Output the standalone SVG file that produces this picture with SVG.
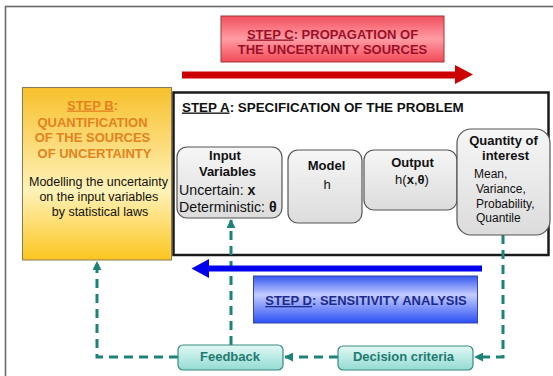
<svg xmlns="http://www.w3.org/2000/svg" width="553" height="376" viewBox="0 0 553 376">
<defs>
<linearGradient id="gC" x1="0" y1="0" x2="0" y2="1">
<stop offset="0" stop-color="#f2505e"/><stop offset="0.5" stop-color="#ff9ca4"/><stop offset="1" stop-color="#f24a58"/>
</linearGradient>
<linearGradient id="gB" x1="0" y1="0" x2="0" y2="1">
<stop offset="0" stop-color="#f7c02c"/><stop offset="0.6" stop-color="#fff2b8"/><stop offset="1" stop-color="#fbc620"/>
</linearGradient>
<linearGradient id="gD" x1="0" y1="0" x2="0" y2="1">
<stop offset="0" stop-color="#3458f0"/><stop offset="0.4" stop-color="#c4ccff"/><stop offset="1" stop-color="#2a50f4"/>
</linearGradient>
<linearGradient id="gN" x1="0" y1="0" x2="0" y2="1">
<stop offset="0" stop-color="#f6f6f6"/><stop offset="1" stop-color="#dcdcdc"/>
</linearGradient>
<linearGradient id="gT" x1="0" y1="0" x2="0" y2="1">
<stop offset="0" stop-color="#e2f8f5"/><stop offset="1" stop-color="#92dbd3"/>
</linearGradient>
<marker id="ah" viewBox="0 0 10 10" refX="9" refY="5" markerWidth="3" markerHeight="3" orient="auto" markerUnits="strokeWidth">
<path d="M0,0 L10,5 L0,10 z" fill="#1e8278"/>
</marker>
</defs>
<style>
text{font-family:"Liberation Sans",Arial,sans-serif}
.b{font-weight:bold}
.u{text-decoration:underline}
.node{fill:url(#gN);stroke:#555;stroke-width:1.2}
.fb{fill:url(#gT);stroke:#3a8a80;stroke-width:1.2}
.tl{fill:#1f7a70;font-size:13px;font-weight:bold;text-anchor:middle}
.con{fill:none;stroke:#1e8278;stroke-width:3;stroke-dasharray:9 6}
.cap{font-size:13px;font-weight:bold;text-anchor:middle;fill:#111}
.txt{font-size:14.2px;fill:#111}
.q{font-size:12px;fill:#111}
</style>
<rect x="5.5" y="6.5" width="620" height="420" fill="#fff" stroke="#6a6a6a" stroke-width="1.6"/>

<g id="stepC">
<rect x="221" y="16" width="223" height="46" fill="url(#gC)" stroke="#a03838" stroke-width="1"/>
<text x="332.5" y="38.5" font-size="13" font-weight="bold" fill="#9a1028" text-anchor="middle"><tspan class="u">STEP C</tspan>: PROPAGATION OF</text>
<text x="332.5" y="53.5" font-size="13" font-weight="bold" fill="#9a1028" text-anchor="middle">THE UNCERTAINTY SOURCES</text>
</g>
<polygon id="arrowC" points="182,71.5 455,71.5 455,65 473,74.5 455,84 455,78.5 182,78.5" fill="#cc0000"/>

<g id="stepB">
<rect x="22.5" y="87.5" width="149" height="172.5" fill="url(#gB)" stroke="#8a7a58" stroke-width="1"/>
<g font-size="13" font-weight="bold" fill="#e4821e" text-anchor="middle">
<text x="92.5" y="109.5"><tspan class="u">STEP B</tspan>:</text>
<text x="92.5" y="126.5">QUANTIFICATION</text>
<text x="92.5" y="142">OF THE SOURCES</text>
<text x="94.5" y="158">OF UNCERTAINTY</text>
</g>
<g font-size="12.5" fill="#111" text-anchor="middle">
<text x="98.5" y="186">Modelling the uncertainty</text>
<text x="98.8" y="201">on the input variables</text>
<text x="100" y="215.5">by statistical laws</text>
</g>
</g>

<g id="stepA">
<rect x="173.5" y="92.5" width="375" height="162.5" fill="#fff" stroke="#1a1a1a" stroke-width="2.5"/>
<text x="182" y="111.5" font-size="13.4" font-weight="bold" fill="#111"><tspan class="u">STEP A</tspan>: SPECIFICATION OF THE PROBLEM</text>
</g>

<g id="connectors">
<path class="con" d="M231,345 V220" marker-end="url(#ah)"/>
<path class="con" d="M503,235 V357 H475" marker-end="url(#ah)"/>
<path class="con" d="M338,357 H285" marker-end="url(#ah)"/>
<path class="con" d="M178,357 H97 V262" marker-end="url(#ah)"/>
</g>

<g id="input">
<rect class="node" x="177" y="147" width="105" height="71" rx="10"/>
<text class="cap" x="225" y="159.7">Input</text>
<text class="cap" x="227.5" y="176.3">Variables</text>
<text class="txt" x="179" y="195">Uncertain: <tspan class="b">x</tspan></text>
<text class="txt" x="179" y="212.3">Deterministic: <tspan class="b">θ</tspan></text>
</g>
<g id="model">
<rect class="node" x="288" y="150" width="74" height="73" rx="10"/>
<text class="cap" x="326.5" y="169.7">Model</text>
<text x="327" y="189" font-size="13" fill="#111" text-anchor="middle">h</text>
</g>
<g id="output">
<rect class="node" x="364" y="150" width="93" height="60" rx="10"/>
<text class="cap" x="412.5" y="167">Output</text>
<text x="412" y="184" font-size="13" fill="#111" text-anchor="middle">h(<tspan class="b">x</tspan>,<tspan class="b">θ</tspan>)</text>
</g>
<g id="quantity">
<rect class="node" x="457" y="129" width="93" height="106" rx="14"/>
<text class="cap" x="503.5" y="144.5" font-size="13.4">Quantity of</text>
<text class="cap" x="505.5" y="160">interest</text>
<text class="q" x="474" y="177.5">Mean,</text>
<text class="q" x="476" y="193">Variance,</text>
<text class="q" x="476" y="207.5">Probability,</text>
<text class="q" x="476" y="222">Quantile</text>
</g>

<polygon id="arrowD" points="482,265.5 209,265.5 209,259 191.5,268.5 209,278 209,271.5 482,271.5" fill="#0000ee"/>
<g id="stepD">
<rect x="253.5" y="276" width="224" height="47" fill="url(#gD)" stroke="#3444a8" stroke-width="1"/>
<text x="366" y="305" font-size="13" font-weight="bold" fill="#1c2a8c" text-anchor="middle"><tspan class="u">STEP D</tspan>: SENSITIVITY ANALYSIS</text>
</g>

<g id="feedback">
<rect class="fb" x="178" y="345" width="105" height="25" rx="5"/>
<text class="tl" x="230" y="361">Feedback</text>
</g>
<g id="decision">
<rect class="fb" x="338" y="346" width="135" height="24" rx="5"/>
<text class="tl" x="403.5" y="361">Decision criteria</text>
</g>
</svg>
